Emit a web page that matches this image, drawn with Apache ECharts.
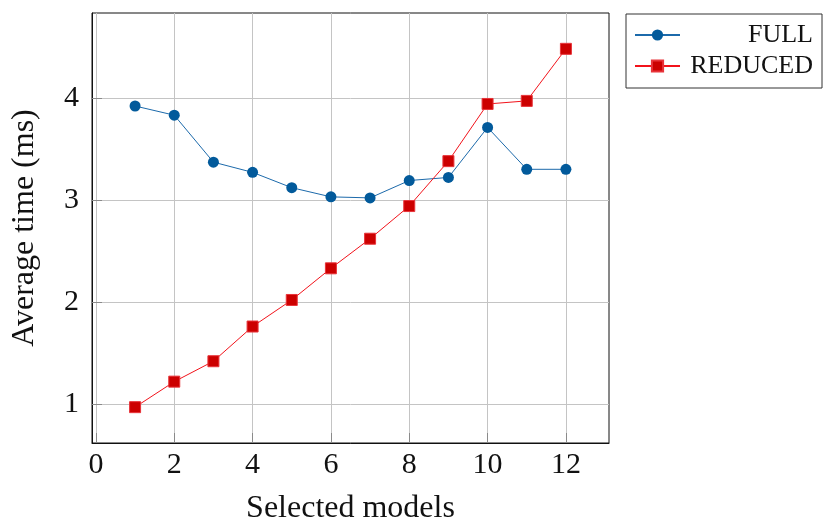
<!DOCTYPE html>
<html>
<head>
<meta charset="utf-8">
<script src="https://cdn.jsdelivr.net/npm/echarts@6/dist/echarts.min.js"></script>
<style>
  html, body { margin: 0; padding: 0; background: #fff; }
  #chart { width: 828px; height: 522px; }
</style>
</head>
<body>
<div id="chart"></div>
<script>
// Number of selected models on the x axis
const selectedModels = [1, 2, 3, 4, 5, 6, 7, 8, 9, 10, 11, 12];
// Average time (ms) per configuration
const fullTimes = [3.92, 3.83, 3.37, 3.27, 3.12, 3.03, 3.02, 3.19, 3.22, 3.71, 3.30, 3.30];
const reducedTimes = [0.97, 1.22, 1.42, 1.76, 2.02, 2.33, 2.62, 2.94, 3.38, 3.94, 3.97, 4.48];
// Tick labels
const xTicks = [0, 2, 4, 6, 8, 10, 12];
const yTicks = [1, 2, 3, 4];

// Axis limits padded by 10% of the data range on each side
function padded(values) {
  const lo = Math.min(...values), hi = Math.max(...values);
  const pad = (hi - lo) * 0.1;
  return [lo - pad, hi + pad];
}
const [xMin, xMax] = padded(selectedModels);
const [yMin, yMax] = padded(fullTimes.concat(reducedTimes));

const pairs = (ys) => selectedModels.map((x, i) => [x, ys[i]]);

const serif = '"Liberation Serif", "DejaVu Serif", serif';
const gridColor = '#c4c4c4';
const tickColor = '#8a8a8a';

const chart = echarts.init(document.getElementById('chart'), null, { renderer: 'canvas' });

chart.setOption({
  animation: false,
  backgroundColor: '#fff',
  grid: {
    left: 92, top: 13, width: 517, height: 430,
    containLabel: false,
    outerBoundsMode: 'none',
    show: true,
    borderColor: '#111',
    borderWidth: 1,
    backgroundColor: 'transparent'
  },
  xAxis: {
    type: 'value',
    min: xMin, max: xMax,
    name: 'Selected models',
    nameLocation: 'middle',
    nameGap: 50,
    nameTextStyle: { fontFamily: serif, fontSize: 32, color: '#111' },
    axisLine: { show: true, onZero: false, lineStyle: { color: '#111', width: 1 } },
    axisTick: { show: true, inside: true, length: 10, customValues: xTicks, lineStyle: { color: tickColor, width: 1 } },
    axisLabel: { customValues: xTicks, margin: 7, fontFamily: serif, fontSize: 30, color: '#111' },
    splitLine: { show: true, lineStyle: { color: gridColor, width: 1 } }
  },
  yAxis: {
    type: 'value',
    min: yMin, max: yMax,
    name: 'Average time (ms)',
    nameLocation: 'middle',
    nameRotate: 90,
    nameGap: 51,
    nameTextStyle: { fontFamily: serif, fontSize: 32, color: '#111' },
    axisLine: { show: true, onZero: false, lineStyle: { color: '#111', width: 1 } },
    axisTick: { show: true, inside: true, length: 10, customValues: yTicks, lineStyle: { color: tickColor, width: 1 } },
    axisLabel: { customValues: yTicks, margin: 13, fontFamily: serif, fontSize: 30, color: '#111' },
    splitLine: { show: true, lineStyle: { color: gridColor, width: 1 } }
  },
  legend: {
    orient: 'vertical',
    left: 626, top: 14,
    padding: [8, 9, 9, 8],
    itemGap: 5,
    itemWidth: 45,
    itemHeight: 14,
    borderColor: '#333',
    borderWidth: 1,
    borderRadius: 0,
    data: ['FULL', 'REDUCED'],
    formatter: (name) => '{t|' + name + '}',
    textStyle: {
      rich: {
        t: { width: 128, align: 'right', fontFamily: serif, fontSize: 26, color: '#111', lineHeight: 27 }
      }
    }
  },
  series: [
    {
      name: 'FULL',
      type: 'line',
      data: pairs(fullTimes),
      symbol: 'circle',
      symbolSize: 11,
      lineStyle: { color: '#1c6aab', width: 1 },
      itemStyle: { color: '#025a9b', borderColor: '#025a9b', borderWidth: 0 },
      z: 3
    },
    {
      name: 'REDUCED',
      type: 'line',
      data: pairs(reducedTimes),
      symbol: 'rect',
      symbolSize: 11,
      lineStyle: { color: '#f2131b', width: 1 },
      itemStyle: { color: '#cc0000', borderColor: '#e8343a', borderWidth: 1 },
      z: 4
    }
  ]
});
</script>
</body>
</html>
